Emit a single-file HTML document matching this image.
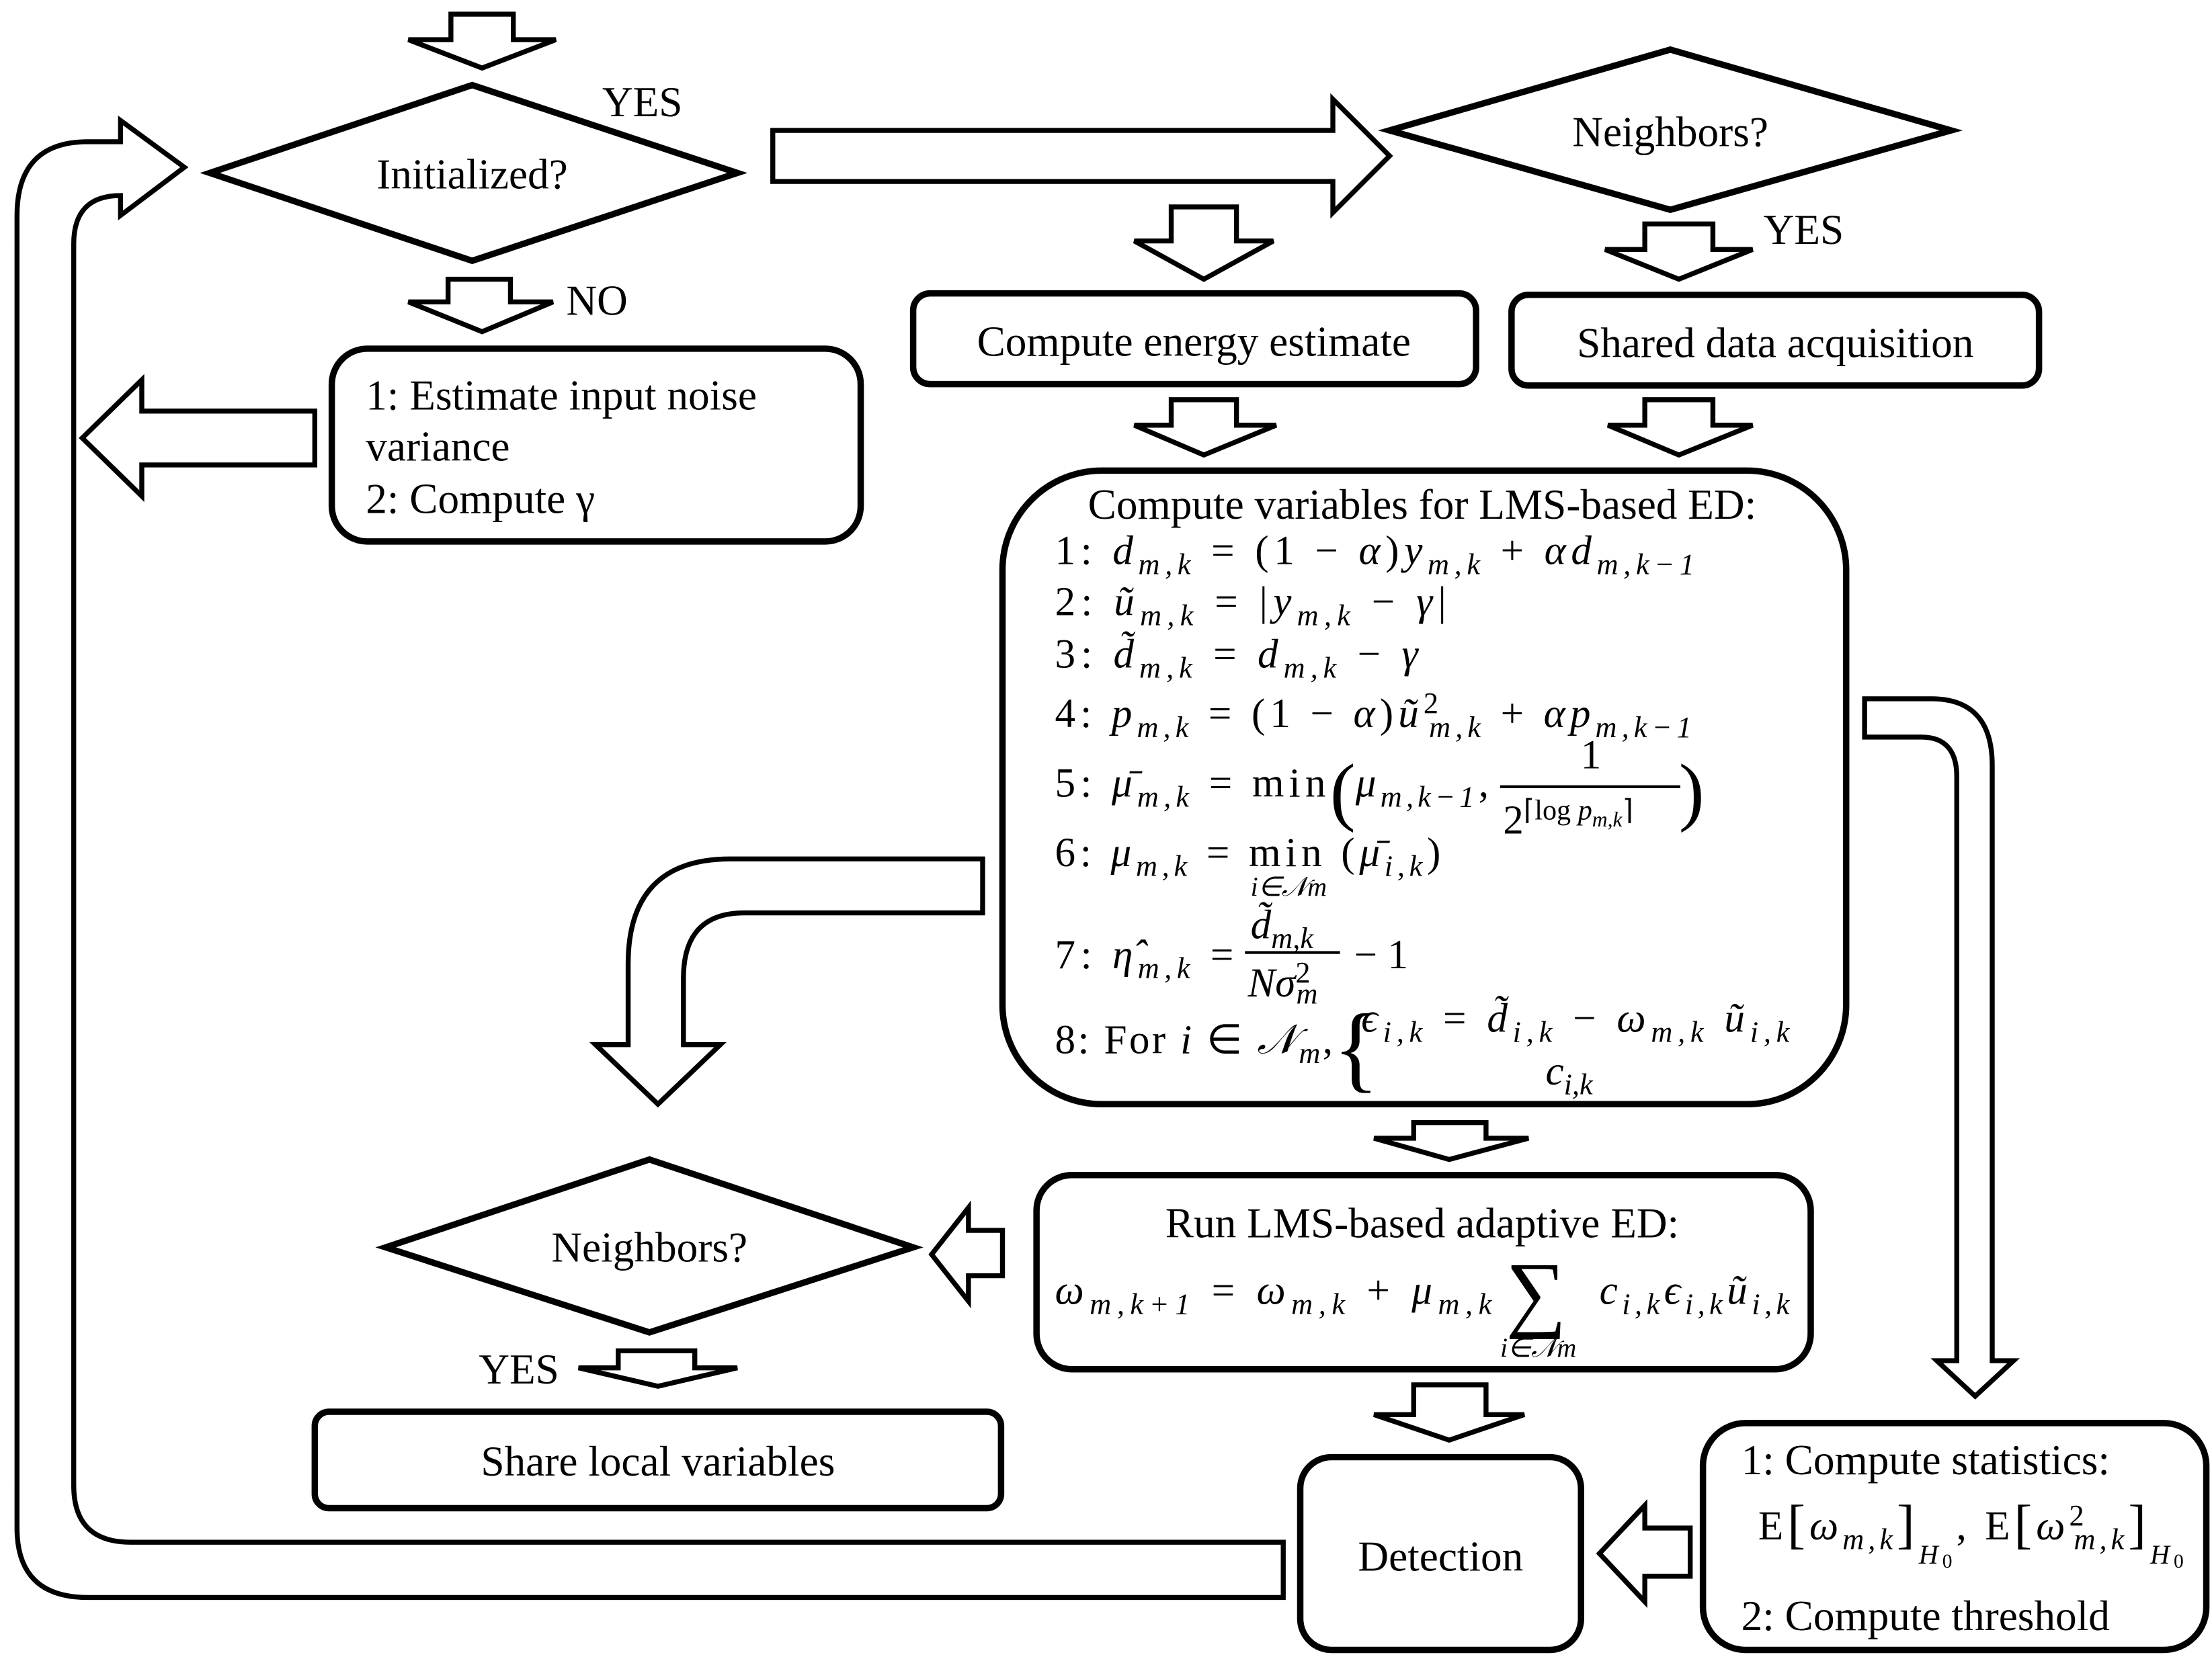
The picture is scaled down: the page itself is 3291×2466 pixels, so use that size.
<!DOCTYPE html>
<html><head><meta charset="utf-8"><style>html,body{margin:0;padding:0;background:#fff}svg{display:block}</style></head>
<body>
<svg width="3291" height="2466" viewBox="0 0 1560 1169" preserveAspectRatio="none" xmlns="http://www.w3.org/2000/svg" font-family="Liberation Serif, serif" font-size="30">
<rect width="1560" height="1169" fill="#fff"/>
<g fill="#fff" stroke="#000" stroke-width="3.5" stroke-linejoin="miter">
<path d="M318,10 L362,10 L362,28 L392,28 L340,48 L288,28 L318,28 Z"/>
<path d="M545,92 L940,92 L940,70 L980,110 L940,150 L940,128 L545,128 Z"/>
<path d="M316,197 L360,197 L360,213 L390,213 L340,234 L288,213 L316,213 Z"/>
<path d="M222,290 L222,328 L100,328 L100,350 L58,309 L100,268 L100,290 Z"/>
<path d="M826,146 L872,146 L872,170 L898,170 L849,197 L800,170 L826,170 Z"/>
<path d="M1160,158 L1208,158 L1208,176 L1236,176 L1184,197 L1132,176 L1160,176 Z"/>
<path d="M826,282 L872,282 L872,300 L900,300 L849,321 L800,300 L826,300 Z"/>
<path d="M1160,282 L1208,282 L1208,300 L1236,300 L1184,321 L1134,300 L1160,300 Z"/>
<path d="M1315,493 L1362,493 Q1405,493 1405,540 L1405,960 L1420,960 L1393,985 L1366,960 L1380,960 L1380,548 Q1380,520 1355,520 L1315,520 Z"/>
<path d="M693,606 L515,606 Q443,606 443,680 L443,737 L420,737 L464,779 L508,737 L482,737 L482,690 Q482,644 525,644 L693,644 Z"/>
<path d="M997,792 L1048,792 L1048,803 L1078,803 L1022,818 L969,803 L997,803 Z"/>
<path d="M707,868 L707,900 L683,900 L683,918 L657,885 L683,852 L683,868 Z"/>
<path d="M436,953 L490,953 L490,965 L520,965 L464,978 L408,965 L436,965 Z"/>
<path d="M997,977 L1048,977 L1048,998 L1075,998 L1022,1016 L969,998 L997,998 Z"/>
<path d="M1192,1078 L1192,1112 L1160,1112 L1160,1130 L1128,1096 L1160,1062 L1160,1078 Z"/>
<path d="M905,1088 L92,1088 Q52,1088 52,1048 L52,172 Q52,138 85,138 L85,152 L130,118 L85,85 L85,100 L62,100 Q12,100 12,152 L12,1078 Q12,1127 62,1127 L905,1127 Z"/>
</g>
<g fill="#fff" stroke="#000" stroke-width="4.5">
<polygon points="148,122 333,60 520,122 333,184"/>
<polygon points="980,92 1178,35 1376,92 1178,148"/>
<polygon points="272,880 458,818 644,880 458,940"/>
<rect x="234" y="246" width="373" height="136" rx="25"/>
<rect x="644" y="207" width="397" height="64" rx="12"/>
<rect x="1066" y="208" width="372" height="64" rx="12"/>
<rect x="707" y="332" width="595" height="447" rx="70"/>
<rect x="731" y="829" width="546" height="137" rx="25"/>
<rect x="222" y="996" width="484" height="68" rx="10"/>
<rect x="917" y="1028" width="198" height="136" rx="22"/>
<rect x="1201" y="1004" width="355" height="160" rx="30"/>
</g>
<g fill="#000">
<text x="333" y="133" text-anchor="middle">Initialized?</text>
<text x="453" y="82" text-anchor="middle">YES</text>
<text x="1178" y="103" text-anchor="middle">Neighbors?</text>
<text x="1272" y="172" text-anchor="middle">YES</text>
<text x="421" y="222" text-anchor="middle">NO</text>
<text x="258" y="289">1: Estimate input noise</text>
<text x="258" y="325">variance</text>
<text x="258" y="362">2: Compute γ</text>
<text x="842" y="251" text-anchor="middle">Compute energy estimate</text>
<text x="1252" y="252" text-anchor="middle">Shared data acquisition</text>
<text x="1003" y="366" text-anchor="middle">Compute variables for LMS-based ED:</text>
<g font-size="29">
<text x="744" y="398" textLength="451" lengthAdjust="spacing">1: <tspan font-style="italic">d</tspan><tspan font-size="21" dy="7" font-style="italic">m,k</tspan><tspan dy="-7"> = (1 − </tspan><tspan font-style="italic">α</tspan>)<tspan font-style="italic">y</tspan><tspan font-size="21" dy="7" font-style="italic">m,k</tspan><tspan dy="-7"> + </tspan><tspan font-style="italic">αd</tspan><tspan font-size="21" dy="7" font-style="italic">m,k−1</tspan></text>
<text x="744" y="434" textLength="276" lengthAdjust="spacing">2: <tspan font-style="italic">ũ</tspan><tspan font-size="21" dy="7" font-style="italic">m,k</tspan><tspan dy="-7"> = |</tspan><tspan font-style="italic">y</tspan><tspan font-size="21" dy="7" font-style="italic">m,k</tspan><tspan dy="-7"> − </tspan><tspan font-style="italic">γ</tspan>|</text>
<text x="744" y="471" textLength="256" lengthAdjust="spacing">3: <tspan font-style="italic">d̃</tspan><tspan font-size="21" dy="7" font-style="italic">m,k</tspan><tspan dy="-7"> = </tspan><tspan font-style="italic">d</tspan><tspan font-size="21" dy="7" font-style="italic">m,k</tspan><tspan dy="-7"> − </tspan><tspan font-style="italic">γ</tspan></text>
<text x="744" y="513" textLength="449" lengthAdjust="spacing">4: <tspan font-style="italic">p</tspan><tspan font-size="21" dy="7" font-style="italic">m,k</tspan><tspan dy="-7"> = (1 − </tspan><tspan font-style="italic">α</tspan>)<tspan font-style="italic">ũ</tspan><tspan font-size="21" dy="-10">2</tspan><tspan font-size="21" dx="-10" dy="17" font-style="italic">m,k</tspan><tspan dy="-7"> + </tspan><tspan font-style="italic">αp</tspan><tspan font-size="21" dy="7" font-style="italic">m,k−1</tspan></text>
<text x="744" y="562" textLength="191" lengthAdjust="spacing">5: <tspan font-style="italic">μ̄</tspan><tspan font-size="21" dy="7" font-style="italic">m,k</tspan><tspan dy="-7"> = min</tspan></text>
<text x="938" y="576" font-size="54">(</text>
<text x="956" y="562" textLength="94" lengthAdjust="spacing"><tspan font-style="italic">μ</tspan><tspan font-size="21" dy="7" font-style="italic">m,k−1</tspan><tspan dy="-7">,</tspan></text>
<text x="1122" y="542" text-anchor="middle">1</text>
<rect x="1058" y="554" width="127" height="2"/>
<text x="1060" y="588">2<tspan font-size="20" dy="-10">⌈log </tspan><tspan font-size="20" font-style="italic">p</tspan><tspan font-size="15" dy="5" font-style="italic">m,k</tspan><tspan font-size="20" dy="-5">⌉</tspan></text>
<text x="1184" y="576" font-size="54">)</text>
<text x="744" y="611" textLength="272" lengthAdjust="spacing">6: <tspan font-style="italic">μ</tspan><tspan font-size="21" dy="7" font-style="italic">m,k</tspan><tspan dy="-7"> = min (</tspan><tspan font-style="italic">μ̄</tspan><tspan font-size="21" dy="7" font-style="italic">i,k</tspan><tspan dy="-7">)</tspan></text>
<text x="882" y="632" font-size="19" font-style="italic">i∈𝒩m</text>
<text x="744" y="683" textLength="126" lengthAdjust="spacing">7: <tspan font-style="italic">η̂</tspan><tspan font-size="21" dy="7" font-style="italic">m,k</tspan><tspan dy="-7"> =</tspan></text>
<text x="882" y="662"><tspan font-style="italic">d̃</tspan><tspan font-size="21" dy="7" font-style="italic">m,k</tspan></text>
<rect x="878" y="671" width="67" height="2"/>
<text x="880" y="703"><tspan font-style="italic">Nσ</tspan><tspan font-size="21" dy="-10">2</tspan><tspan font-size="21" dx="-10" dy="15" font-style="italic">m</tspan></text>
<text x="955" y="683">− 1</text>
<text x="744" y="743" textLength="196" lengthAdjust="spacing">8: For <tspan font-style="italic">i</tspan> ∈ <tspan font-style="italic">𝒩</tspan><tspan font-size="21" dy="7" font-style="italic">m</tspan><tspan dy="-7">,</tspan></text>
<text x="940" y="762" font-size="68">{</text>
<text x="960" y="728" textLength="302" lengthAdjust="spacing"><tspan font-style="italic">ϵ</tspan><tspan font-size="21" dy="7" font-style="italic">i,k</tspan><tspan dy="-7"> = </tspan><tspan font-style="italic">d̃</tspan><tspan font-size="21" dy="7" font-style="italic">i,k</tspan><tspan dy="-7"> − </tspan><tspan font-style="italic">ω</tspan><tspan font-size="21" dy="7" font-style="italic">m,k</tspan><tspan dy="-7"> </tspan><tspan font-style="italic">ũ</tspan><tspan font-size="21" dy="7" font-style="italic">i,k</tspan></text>
<text x="1090" y="765"><tspan font-style="italic">c</tspan><tspan font-size="21" dy="7" font-style="italic">i,k</tspan></text>
<text x="744" y="920" textLength="308" lengthAdjust="spacing"><tspan font-style="italic">ω</tspan><tspan font-size="21" dy="7" font-style="italic">m,k+1</tspan><tspan dy="-7"> = </tspan><tspan font-style="italic">ω</tspan><tspan font-size="21" dy="7" font-style="italic">m,k</tspan><tspan dy="-7"> + </tspan><tspan font-style="italic">μ</tspan><tspan font-size="21" dy="7" font-style="italic">m,k</tspan></text>
<text x="1062" y="932" font-size="60">∑</text>
<text x="1058" y="957" font-size="19" font-style="italic">i∈𝒩m</text>
<text x="1128" y="920" textLength="134" lengthAdjust="spacing"><tspan font-style="italic">c</tspan><tspan font-size="21" dy="7" font-style="italic">i,k</tspan><tspan dy="-7" font-style="italic">ϵ</tspan><tspan font-size="21" dy="7" font-style="italic">i,k</tspan><tspan dy="-7" font-style="italic">ũ</tspan><tspan font-size="21" dy="7" font-style="italic">i,k</tspan></text>
<text x="1240" y="1086" textLength="300" lengthAdjust="spacing">E<tspan font-size="38" dy="2">[</tspan><tspan dy="-2" font-style="italic">ω</tspan><tspan font-size="21" dy="7" font-style="italic">m,k</tspan><tspan font-size="38" dy="-5">]</tspan><tspan font-size="19" dy="15" font-style="italic">H</tspan><tspan font-size="14" dy="3">0</tspan><tspan dy="-20">, E</tspan><tspan font-size="38" dy="2">[</tspan><tspan dy="-2" font-style="italic">ω</tspan><tspan font-size="21" dy="-10">2</tspan><tspan font-size="21" dx="-10" dy="17" font-style="italic">m,k</tspan><tspan font-size="38" dy="-5">]</tspan><tspan font-size="19" dy="15" font-style="italic">H</tspan><tspan font-size="14" dy="3">0</tspan></text>
</g>
<text x="1003" y="873" text-anchor="middle">Run LMS-based adaptive ED:</text>
<text x="458" y="890" text-anchor="middle">Neighbors?</text>
<text x="366" y="976" text-anchor="middle">YES</text>
<text x="464" y="1041" text-anchor="middle">Share local variables</text>
<text x="1016" y="1108" text-anchor="middle">Detection</text>
<text x="1228" y="1040">1: Compute statistics:</text>
<text x="1228" y="1150">2: Compute threshold</text>
</g>
</svg>
</body></html>
